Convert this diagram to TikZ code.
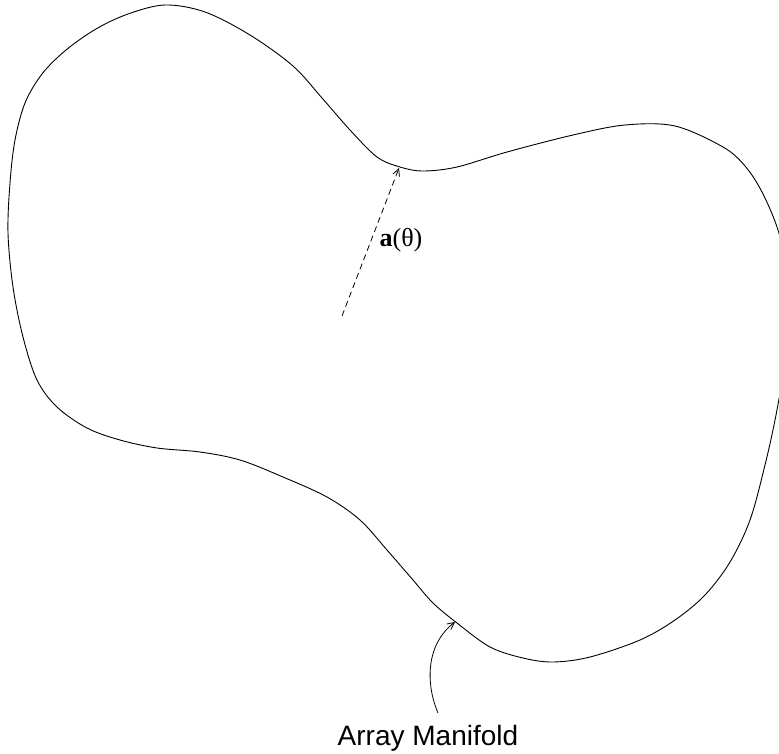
\documentclass[tikz,border=0pt]{standalone}
\usepackage{fontspec}
\newfontfamily\labsans{Liberation Sans}
\newfontfamily\labserif{Liberation Serif}
\usetikzlibrary{arrows.meta}
\tikzset{
  outline/.style={line width=0.9pt, black},
  barb/.style={-{Straight Barb[length=7pt,width=7pt]}, line width=0.8pt},
  dasharrow/.style={barb, dash pattern=on 6pt off 4pt},
  lbl/.style={inner sep=0pt}
}
\begin{document}
\begin{tikzpicture}[x=1pt,y=-1pt]
\useasboundingbox (0,0) rectangle (779,753);
\clip (0,0) rectangle (779,753);
% manifold outline
\draw[outline] plot[smooth cycle, tension=0.55] coordinates {
 (8,233) (10,183) (15,140) (25,103) (42,74) (66,50) (96,29) (128,14)
 (165,5) (205,12) (250,35) (293,66) (322,98) (350,130)
 (377,157) (400,167) (423,171) (457,167)
 (507,152) (573,135) (625,125) (675,126) (723,147) (745,166) (762,192)
 (778,230) (788,275) (790,315) (785,362) (776,415) (765,465) (750,520)
 (730,562) (705,595) (675,620) (640,640) (590,657) (553,662) (523,658)
 (490,647) (457,623) (433,603) (413,580) (387,550) (360,520) (327,497)
 (283,477) (240,460) (200,452) (157,448) (120,440) (87,428) (57,407)
 (37,380) (23,337) (13,287)};
% steering vector
\coordinate (tail) at (342,316);
\coordinate (tip) at (399,168);
\draw[dasharrow] (tail) -- (tip);
\node[lbl] (alab) at (401,240) {\labserif\fontsize{26}{30}\selectfont\textbf{a}(θ)};
% manifold label
\node[lbl, anchor=base] (am) at (428,745) {\labsans\fontsize{28}{32}\selectfont Array Manifold};
\coordinate (amstart) at (438,713);
\coordinate (amtip) at (455,622);
\draw[barb] (amstart) .. controls (426,685) and (425,645) .. (amtip);
\end{tikzpicture}
\end{document}
